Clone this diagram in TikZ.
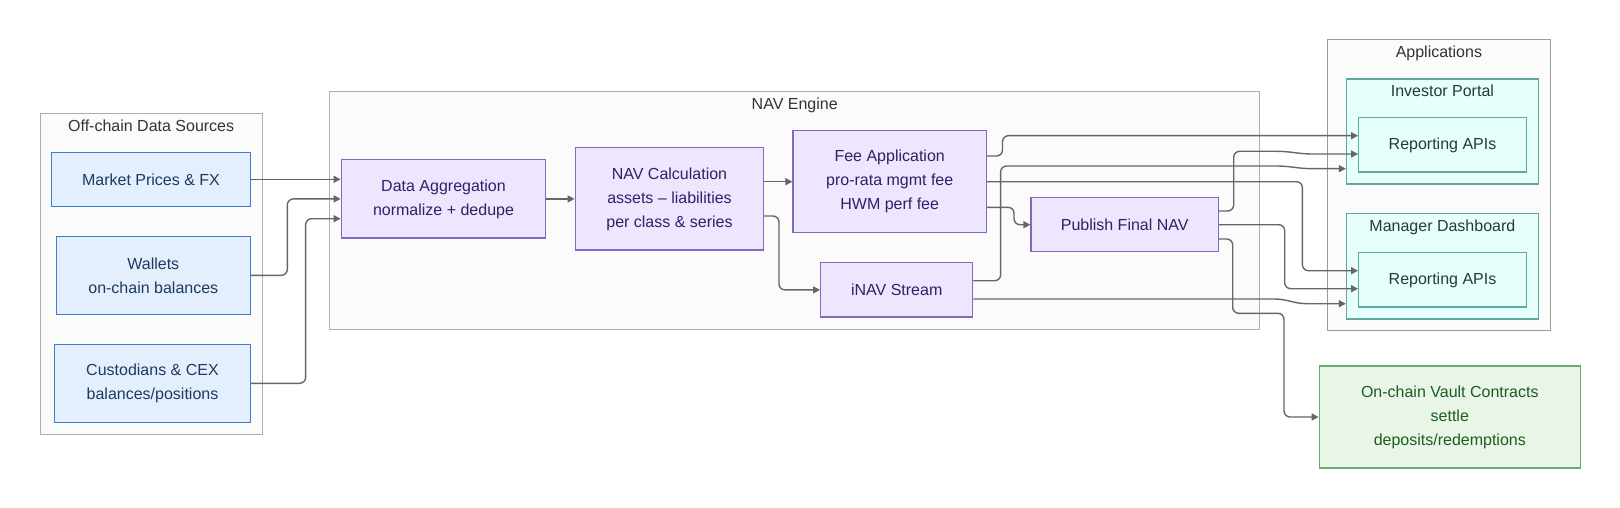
\documentclass[tikz,border=0pt]{standalone}
\usepackage{fontspec}
\setmainfont{Liberation Sans}
\usepackage{tikz}
\usetikzlibrary{arrows.meta, positioning}
\usepackage{xcolor}

\definecolor{clusterfill}{HTML}{FBFBFB}
\definecolor{clusterline}{HTML}{AEAEAE}
\definecolor{appsline}{HTML}{9A9A9A}
\definecolor{srcfill}{HTML}{E4EFFD}
\definecolor{srcline}{HTML}{3F7DC6}
\definecolor{srctext}{HTML}{1E3A5F}
\definecolor{engfill}{HTML}{EEE6FF}
\definecolor{engline}{HTML}{8468BE}
\definecolor{engtext}{HTML}{2D2266}
\definecolor{appfill}{HTML}{E6FFFA}
\definecolor{appline}{HTML}{5EA8A1}
\definecolor{apptext}{HTML}{1F3D3D}
\definecolor{vaultfill}{HTML}{E8F5E7}
\definecolor{vaultline}{HTML}{6BAA6C}
\definecolor{vaulttext}{HTML}{1B5E20}
\definecolor{edgegray}{HTML}{666666}

\begin{document}
\begin{tikzpicture}[
    x=1pt, y=-1pt,
    >={Triangle[length=7pt,width=7pt]},
    every node/.style={align=center, font=\fontsize{16}{24}\selectfont}
]
    % Define styles
    \tikzstyle{cluster} = [rectangle, draw=clusterline, fill=clusterfill, line width=1pt]
    \tikzstyle{subcluster} = [rectangle, draw=appline, fill=appfill, line width=1.3pt]
    \tikzstyle{clustertitle} = [anchor=base, yshift=-18.3pt, text=black!80]
    \tikzstyle{source} = [rectangle, text centered, draw=srcline, fill=srcfill, text=srctext, line width=1.3pt]
    \tikzstyle{engine} = [rectangle, text centered, draw=engline, fill=engfill, text=engtext, line width=1.3pt]
    \tikzstyle{app} = [rectangle, text centered, draw=appline, fill=appfill, text=apptext, line width=1.3pt]
    \tikzstyle{vault} = [rectangle, text centered, draw=vaultline, fill=vaultfill, text=vaulttext, line width=1.3pt]
    \tikzstyle{arrow} = [line width=1.4pt, draw=edgegray, ->, rounded corners=6pt]

    \useasboundingbox (0,0) rectangle (1620,508);

    % Subgraphs
    \node [cluster, minimum width=222.3pt, minimum height=320.7pt,
        label={[clustertitle]north:Off-chain Data Sources}] (offchain) at (151.15,273.65) {};
    \node [cluster, minimum width=930pt, minimum height=237.3pt,
        label={[clustertitle]north:NAV Engine}] (navengine) at (794.7,210.35) {};
    \node [cluster, draw=appsline, minimum width=222.8pt, minimum height=291pt,
        label={[clustertitle]north:Applications}] (apps) at (1438.9,185.2) {};
    \node [subcluster, minimum width=191.8pt, minimum height=105pt,
        label={[clustertitle, text=apptext]north:Investor Portal}] (investor) at (1442.4,131.5) {};
    \node [subcluster, minimum width=191.8pt, minimum height=105.3pt,
        label={[clustertitle, text=apptext]north:Manager Dashboard}] (manager) at (1442.4,266.35) {};

    % Data sources
    \node [source, minimum width=198.6pt, minimum height=54pt] (market) at (151,179.3) {Market Prices \& FX};
    \node [source, minimum width=194pt, minimum height=78pt] (wallets) at (153.3,275.3) {Wallets\\on-chain balances};
    \node [source, minimum width=195.6pt, minimum height=78pt] (custod) at (152.5,383.3) {Custodians \& CEX\\balances/positions};

    % Engine steps
    \node [engine, minimum width=204.4pt, minimum height=78.3pt] (dataagg) at (443.5,198.9) {Data Aggregation\\normalize + dedupe};
    \node [engine, minimum width=188.4pt, minimum height=102.3pt] (navcalc) at (669.5,198.9) {NAV Calculation\\assets – liabilities\\per class \& series};
    \node [engine, minimum width=193.3pt, minimum height=102pt] (fee) at (889.7,181.7) {Fee Application\\pro-rata mgmt fee\\HWM perf fee};
    \node [engine, minimum width=152pt, minimum height=54.3pt] (inav) at (896.7,289.9) {iNAV Stream};
    \node [engine, minimum width=187.3pt, minimum height=54pt] (publish) at (1124.7,224.7) {Publish Final NAV};

    % Consumers
    \node [app, minimum width=167.6pt, minimum height=54.3pt] (ra1) at (1442.5,144.9) {Reporting APIs};
    \node [app, minimum width=167.6pt, minimum height=54.3pt] (ra2) at (1442.5,279.9) {Reporting APIs};
    \node [vault, minimum width=261pt, minimum height=102pt] (vault) at (1449.8,417) {On-chain Vault Contracts\\settle\\deposits/redemptions};

    % Arrows from sources to aggregation
    \draw [arrow] (market.east) -- (market.east -| dataagg.west);
    \draw [arrow] (wallets.east) -- ++(36.4,0) |- (dataagg.west);
    \draw [arrow] (custod.east) -- ++(54.7,0) |- ([yshift=-19.8pt]dataagg.west);

    % Arrows inside the engine
    \draw [arrow] (dataagg.east) -- (navcalc.west);
    \draw [arrow] (navcalc.east |- fee.west) -- (fee.west);
    \draw [arrow] ([yshift=-17.1pt]navcalc.east) -- ++(14.6,0) |- (inav.west);
    \draw [arrow] ([yshift=-25.6pt]fee.east) -- ++(27,0) |- (publish.west);

    % Arrows to the applications
    \draw [arrow] ([yshift=25.7pt]fee.east) -- ++(15.5,0) |- ([yshift=9.2pt]ra1.west);
    \draw [arrow] (fee.east) -- ++(315.4,0) |- ([yshift=9.2pt]ra2.west);
    \draw [arrow] ([yshift=9.2pt]inav.east) -- ++(27.3,0) |- ([xshift=-63pt,yshift=-34.5pt]investor.west)
        -- ([xshift=-40pt,yshift=-37.2pt]investor.west) -- ([yshift=-37.2pt]investor.west);
    \draw [arrow] ([yshift=-9.1pt]inav.east) -- ++(307,0)
        -- ([xshift=-45pt,yshift=-37.35pt]manager.west) -- ([yshift=-37.35pt]manager.west);
    \draw [arrow] ([yshift=13.7pt]publish.east) -- ++(14.7,0) |- ([xshift=-75pt,yshift=-6.4pt]ra1.west)
        -- ([xshift=-52pt,yshift=-9.1pt]ra1.west) -- ([yshift=-9.1pt]ra1.west);
    \draw [arrow] (publish.east) -- ++(65.7,0) |- ([yshift=-8.8pt]ra2.west);

    % Arrow to the vault
    \draw [arrow] ([yshift=-14.3pt]publish.east) -- ++(13.7,0) -- ++(0,74.3) -- ++(51.3,0) |- (vault.west);

\end{tikzpicture}
\end{document}
